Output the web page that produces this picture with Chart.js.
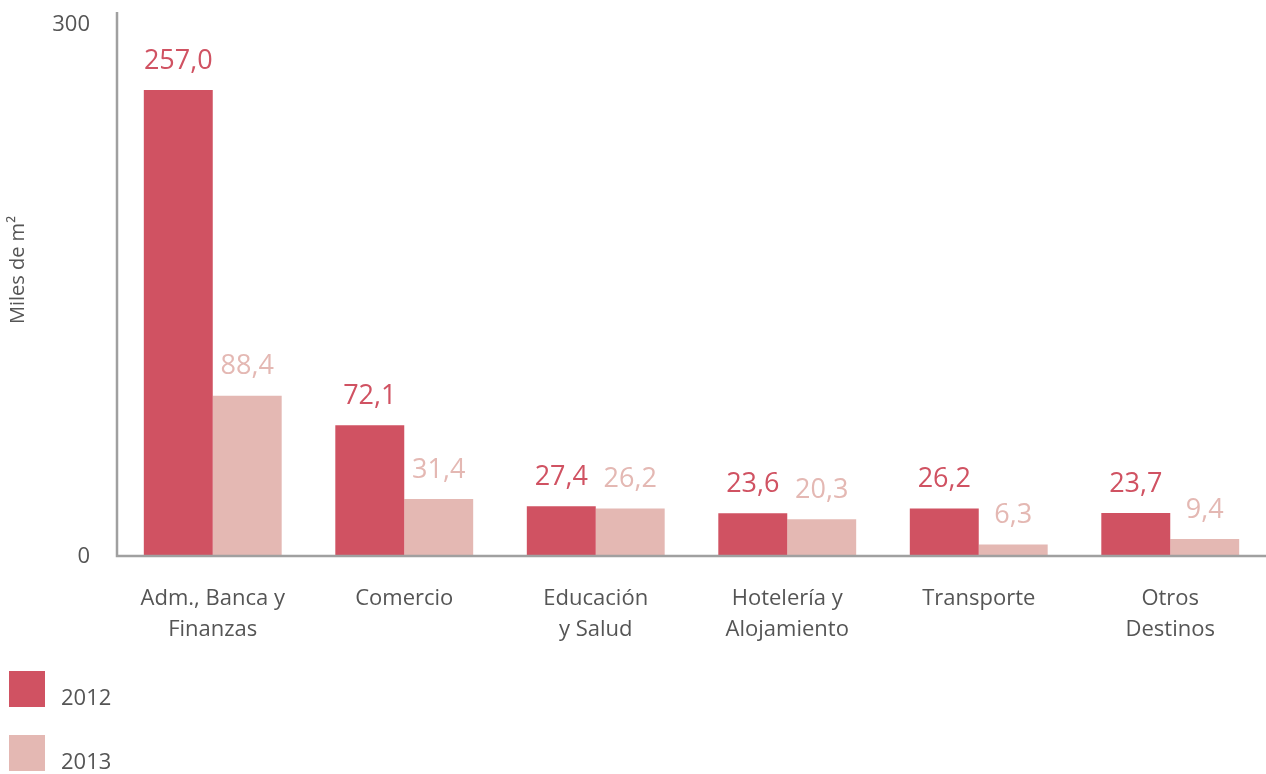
<!DOCTYPE html>
<html><head><meta charset="utf-8">
<script src="https://cdn.jsdelivr.net/npm/chart.js@4"></script>
<style>html,body{margin:0;padding:0;background:#fff}#wrap{width:1266px;height:774px;position:relative}</style>
</head><body><div id="wrap"><canvas id="c"></canvas></div>
<script>
const categories = [["Adm., Banca y","Finanzas"],["Comercio"],["Educación","y Salud"],["Hotelería y","Alojamiento"],["Transporte"],["Otros","Destinos"]];
const seriesNames = ["2012","2013"];
const values2012 = [257.0, 72.1, 27.4, 23.6, 26.2, 23.7];
const values2013 = [88.4, 31.4, 26.2, 20.3, 6.3, 9.4];
const yTicks = [0, 300];
const yTitle = "Miles de m²";
const colors = ["#D05262", "#E4B8B3"];
const FONT = "'Open Sans', 'Noto Sans', sans-serif";

const customDraw = {
  id: 'customDraw',
  afterDatasetsDraw(chart) {
    const ctx = chart.ctx;
    const y = chart.scales.y;
    const a = chart.chartArea;
    ctx.save();
    ctx.strokeStyle = '#a0a0a0';
    ctx.lineWidth = 2.5;
    ctx.beginPath();
    ctx.moveTo(a.left, a.top);
    ctx.lineTo(a.left, a.bottom);
    ctx.lineTo(a.right, a.bottom);
    ctx.stroke();
    ctx.fillStyle = '#555';
    ctx.font = '22px ' + FONT;
    ctx.textAlign = 'right';
    ctx.textBaseline = 'middle';
    yTicks.forEach(v => {
      const py = Math.max(y.getPixelForValue(v), a.top + 12);
      ctx.fillText(String(v), 90, py + 1);
    });
    ctx.save();
    ctx.translate(18, 270);
    ctx.rotate(-Math.PI / 2);
    ctx.textAlign = 'center';
    ctx.font = '20px ' + FONT;
    ctx.fillText(yTitle, 0, 0);
    ctx.restore();
    ctx.font = '27px ' + FONT;
    ctx.textAlign = 'center';
    ctx.textBaseline = 'middle';
    chart.data.datasets.forEach((ds, i) => {
      const meta = chart.getDatasetMeta(i);
      ctx.fillStyle = ds.backgroundColor;
      meta.data.forEach((bar, j) => {
        const txt = ds.data[j].toFixed(1).replace('.', ',');
        ctx.fillText(txt, bar.x, bar.y - 29);
      });
    });
    ctx.textAlign = 'left';
    ctx.font = '22px ' + FONT;
    chart.data.datasets.forEach((ds, i) => {
      const top = 671 + i * 64;
      ctx.fillStyle = ds.backgroundColor;
      ctx.fillRect(9, top, 36, 36);
      ctx.fillStyle = '#555';
      ctx.fillText(ds.label, 61, top + 28);
    });
    ctx.restore();
  }
};

new Chart(document.getElementById('c'), {
  type: 'bar',
  data: {
    labels: categories,
    datasets: [
      { label: seriesNames[0], data: values2012, backgroundColor: colors[0] },
      { label: seriesNames[1], data: values2013, backgroundColor: colors[1] }
    ]
  },
  options: {
    responsive: true,
    maintainAspectRatio: false,
    animation: false,
    devicePixelRatio: 1,
    layout: { padding: { top: 12, right: 0, left: 0, bottom: 0 } },
    plugins: { legend: { display: false }, tooltip: { enabled: false } },
    datasets: { bar: { categoryPercentage: 0.72, barPercentage: 1.0 } },
    scales: {
      x: {
        grid: { display: false, drawTicks: false },
        border: { display: false },
        ticks: { color: '#555', font: { size: 22, family: FONT, lineHeight: 1.38 }, padding: 28, maxRotation: 0, autoSkip: false },
        afterFit(s) { s.height = 218; }
      },
      y: {
        min: 0, max: 300,
        grid: { display: false, drawTicks: false },
        border: { display: false },
        ticks: { display: false },
        afterFit(s) { s.width = 117; }
      }
    }
  },
  plugins: [customDraw]
});
</script></body></html>
